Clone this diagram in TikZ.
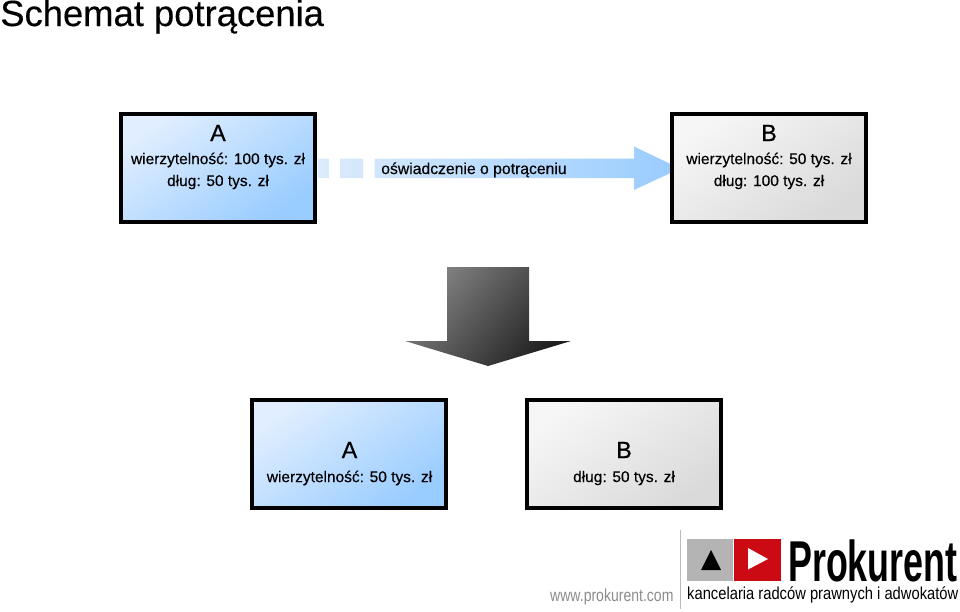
\documentclass[tikz,border=0pt]{standalone}
\usepackage{fontspec}
\setmainfont{Liberation Sans}
\newfontfamily\heavy[FakeBold=0.35]{Liberation Sans}
\newfontfamily\heavier[FakeBold=0.6]{Liberation Sans}
\definecolor{blueL}{HTML}{E0EEFF}
\definecolor{blueD}{HTML}{99CCFF}
\definecolor{grayL}{HTML}{F6F6F6}
\definecolor{grayD}{HTML}{DADADA}
\definecolor{arrL}{HTML}{DCEBFB}
\definecolor{arrD}{HTML}{99CCFF}
\definecolor{downL}{HTML}{848484}
\definecolor{downD}{HTML}{1E1E1E}
\definecolor{logoGray}{HTML}{B4B4B4}
\definecolor{logoRed}{HTML}{CC0A14}
\definecolor{webGray}{HTML}{8C8C8C}
\tikzset{
  x=0.75pt,y=-0.75pt,
  boxbase/.style={draw=black,line width=3pt,minimum width=145.5pt,minimum height=81pt,inner sep=0pt,anchor=north west},
  bluebox/.style={boxbase,left color=blueL,right color=blueD,shading angle=35},
  graybox/.style={boxbase,left color=grayL,right color=grayD,shading angle=35},
  boxhead/.style={font=\heavier\fontsize{17.5pt}{20pt}\selectfont,inner sep=0pt},
  boxtext/.style={font=\heavy\fontsize{11.6pt}{14pt}\selectfont,inner sep=0pt},
}
\begin{document}
\begin{tikzpicture}
\useasboundingbox (0,0) rectangle (960,611);
\node[anchor=base west,inner sep=0pt,font=\heavy\fontsize{27.3pt}{30pt}\selectfont] (title) at (0,26) {Schemat potrącenia};
% long arrow
\shade[left color=arrL,right color=arrD]
  (318,158.5) rectangle (329,178)
  (340,158.5) rectangle (363,178)
  (374.5,158.5) -- (634,158.5) -- (634,146.5) -- (680,168.5) -- (634,190) -- (634,178) -- (374.5,178) -- cycle;
% boxes
\node[bluebox] (a1) at (119,112) {};
\node[graybox] (b1) at (670,112) {};
\node[bluebox] (a2) at (250,398) {};
\node[graybox] (b2) at (525,398) {};
% box texts
\node[boxhead] (a1h) at (218,133) {A};
\node[boxtext] (a1t1) at (218,160) {wierzytelność: 100 tys. zł};
\node[boxtext] (a1t2) at (218,182) {dług: 50 tys. zł};
\node[boxhead] (b1h) at (769,133) {B};
\node[boxtext] (b1t1) at (769,160) {wierzytelność: 50 tys. zł};
\node[boxtext] (b1t2) at (769,182) {dług: 100 tys. zł};
\node[boxhead] (a2h) at (349.5,450) {A};
\node[boxtext] (a2t) at (349.5,478) {wierzytelność: 50 tys. zł};
\node[boxhead] (b2h) at (624,450) {B};
\node[boxtext] (b2t) at (624,478) {dług: 50 tys. zł};
\node[boxtext,anchor=base west,font=\heavy\fontsize{11.8pt}{14pt}\selectfont] (arrt) at (381,174) {oświadczenie o potrąceniu};
% down arrow
\shade[left color=downL,right color=downD,shading angle=50]
  (447,267) -- (529,267) -- (529,341) -- (571,341) -- (488,366) -- (405,341) -- (447,341) -- cycle;
% logo
\fill[webGray!60] (680,530) rectangle (681,609);
\fill[logoGray] (687,539) rectangle (733,581);
\fill[logoRed] (734,539) rectangle (781,581);
\fill[black] (701,570) -- (721,570) -- (711,550) -- cycle;
\fill[white] (748,548) -- (748,569.5) -- (768,559) -- cycle;
\node[anchor=base west,inner sep=0pt,font=\fontsize{40pt}{44pt}\selectfont\bfseries,xscale=0.672,yscale=1.08] (brand) at (788,581) {Prokurent};
\node[anchor=base west,inner sep=0pt,font=\fontsize{13pt}{15pt}\selectfont,xscale=0.85] (motto) at (687,599) {kancelaria radców prawnych i adwokatów};
\node[anchor=base west,inner sep=0pt,text=webGray,font=\fontsize{13pt}{15pt}\selectfont,xscale=0.81] (web) at (550,601) {www.prokurent.com};
\end{tikzpicture}
\end{document}
